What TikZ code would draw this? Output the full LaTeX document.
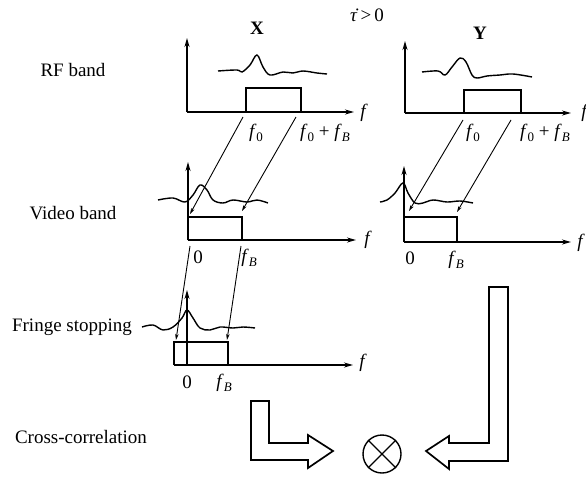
\documentclass[tikz,border=0pt]{standalone}
\usepackage{fontspec}
\setmainfont{Liberation Serif}
\usetikzlibrary{arrows.meta}
\newcommand\fsub[2]{\textit{#1}\raisebox{-0.45ex}{\fontsize{13}{13}\selectfont #2}}
\begin{document}
\begin{tikzpicture}[x=1pt,y=-1pt,
  lbl/.style={font=\fontsize{19}{22}\selectfont, inner sep=0pt},
  mlbl/.style={font=\fontsize{19}{22}\selectfont, inner sep=0pt},
  axis/.style={line width=1.4pt, -{Stealth[length=9pt,width=5pt]}},
  band/.style={line width=2pt},
  wave/.style={line width=1.4pt, smooth, tension=0.6},
  shiftarrow/.style={line width=0.9pt, -{Stealth[length=6pt,width=3.5pt]}},
  bigarrow/.style={line width=1.7pt, fill=white, line join=miter}]
\useasboundingbox (0,0) rectangle (586,477);

% row labels
\node[lbl] (rf) at (73,70) {RF band};
\node[lbl] (vb) at (73,213) {Video band};
\node[lbl] (fs) at (72,327) {Fringe stopping};
\node[lbl] (cc) at (81,437) {Cross-correlation};
\node[lbl, font=\fontsize{19}{22}\selectfont\bfseries] (X) at (257,28) {X};
\node[lbl, font=\fontsize{19}{22}\selectfont\bfseries] (Y) at (480,33) {Y};
\node[lbl] (tau) at (367,15) {\.{\textit{τ}}\,>\,0};

% ---------- RF band X ----------
\coordinate (xo) at (187,112);
\draw[axis] (xo) -- (187,38);
\draw[axis] (xo) -- (354,112);
\node[mlbl] (xf) at (364,113) {\textit{f}};
\draw[band] (246,112) -- (246,88) -- (301,88) -- (301,112);
\draw[wave] plot coordinates {(218,71) (237,70) (242,72) (250,65) (257,55) (263,67) (270,75) (283,72) (293,73) (303,71) (317,73) (327,74)};
\node[mlbl] (xf0) at (256,133) {\fsub{f}{0}};
\node[mlbl] (xf0b) at (325,133) {\fsub{f}{0} + \fsub{f}{\textit{B}}};

% ---------- RF band Y ----------
\coordinate (yo) at (405,113);
\draw[axis] (yo) -- (405,41);
\draw[axis] (yo) -- (571,113);
\node[mlbl] (yf) at (585,113) {\textit{f}};
\draw[band] (464,113) -- (464,90) -- (521,90) -- (521,113);
\draw[wave] plot coordinates {(422,72) (438,71) (445,75) (452,67) (460,58) (466,62) (472,75) (477,78) (487,76) (500,75) (513,74) (532,77)};
\node[mlbl] (yf0) at (473,133) {\fsub{f}{0}};
\node[mlbl] (yf0b) at (545,133) {\fsub{f}{0} + \fsub{f}{\textit{B}}};

% ---------- Video band X ----------
\coordinate (vxo) at (188,240);
\draw[axis] (vxo) -- (188,162);
\draw[axis] (vxo) -- (356,240);
\node[mlbl] (vxf) at (368,240) {\textit{f}};
\draw[band] (188,240) -- (188,217) -- (242,217) -- (242,240);
\draw[wave] plot coordinates {(158,200) (173,198) (185,202) (193,195) (200,185) (207,190) (213,200) (223,203) (233,200) (247,202) (257,200) (268,203)};
\node[mlbl] (vx0) at (198,257) {0};
\node[mlbl] (vxfb) at (249,258) {\fsub{f}{\textit{B}}};

% ---------- Video band Y ----------
\coordinate (vyo) at (404,242);
\draw[axis] (vyo) -- (404,166);
\draw[axis] (vyo) -- (571,242);
\node[mlbl] (vyf) at (581,243) {\textit{f}};
\draw[band] (404,242) -- (404,217) -- (457,217) -- (457,242);
\draw[wave] plot coordinates {(380,202) (387,200) (395,193) (403,183) (408,193) (415,203) (423,203) (433,200) (447,202) (460,201) (473,203)};
\node[mlbl] (vy0) at (410,258) {0};
\node[mlbl] (vyfb) at (456,260) {\fsub{f}{\textit{B}}};

% ---------- Fringe stopping ----------
\coordinate (fo) at (187,365);
\draw[axis] (fo) -- (187,290);
\draw[axis] (174,365) -- (353,365);
\node[mlbl] (ff) at (363,363) {\textit{f}};
\draw[band] (174,365) -- (174,342) -- (228,342) -- (228,365);
\draw[wave] plot coordinates {(142,327) (153,325) (163,330) (173,327) (182,318) (187,310) (193,318) (200,328) (210,330) (220,327) (233,328) (243,327) (255,328)};
\node[mlbl] (f0) at (187,382) {0};
\node[mlbl] (ffb) at (224,383) {\fsub{f}{\textit{B}}};

% ---------- frequency shift arrows ----------
\coordinate (a1s) at (243,117); \coordinate (a1e) at (190,214);
\coordinate (a2s) at (296,117); \coordinate (a2e) at (242,211);
\coordinate (b1s) at (463,120); \coordinate (b1e) at (409,211);
\coordinate (b2s) at (511,120); \coordinate (b2e) at (457,212);
\coordinate (c1s) at (190,246); \coordinate (c1e) at (176,340);
\coordinate (c2s) at (241,246); \coordinate (c2e) at (227,340);
\draw[shiftarrow] (a1s) -- (a1e);
\draw[shiftarrow] (a2s) -- (a2e);
\draw[shiftarrow] (b1s) -- (b1e);
\draw[shiftarrow] (b2s) -- (b2e);
\draw[shiftarrow] (c1s) -- (c1e);
\draw[shiftarrow] (c2s) -- (c2e);

% ---------- Cross-correlation ----------
\node[draw, circle, line width=1.4pt, minimum size=38pt, inner sep=0pt] (mul) at (382,454) {};
\draw[line width=1.2pt] (mul.north west) -- (mul.south east);
\draw[line width=1.2pt] (mul.north east) -- (mul.south west);
\draw[bigarrow] (251,401) -- (269,401) -- (269,443) -- (308,443) -- (308,435) -- (333,451) -- (308,468) -- (308,460) -- (251,460) -- cycle;
\draw[bigarrow] (489,287) -- (508,287) -- (508,461) -- (449,461) -- (449,469) -- (426,451) -- (449,436) -- (449,443) -- (489,443) -- cycle;
\end{tikzpicture}
\end{document}
